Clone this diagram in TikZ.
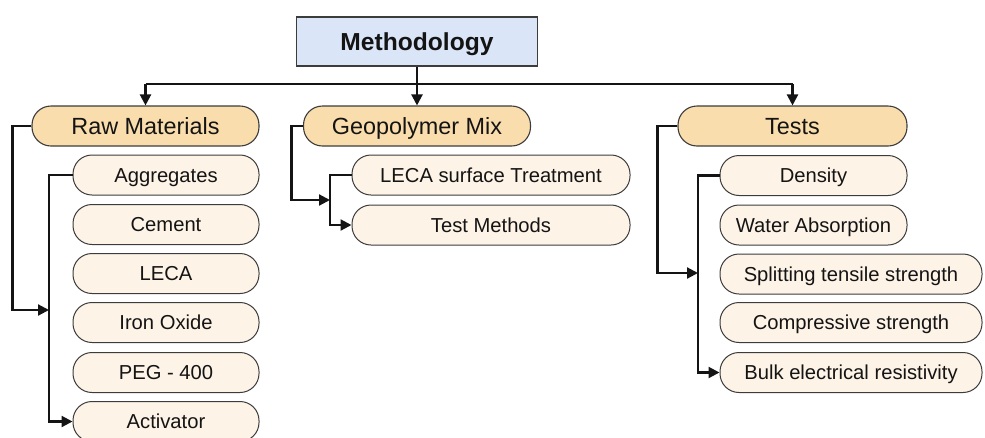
\documentclass[tikz,border=0pt]{standalone}
\usepackage{fontspec}
\setmainfont{Liberation Sans}
\usetikzlibrary{arrows.meta}
\definecolor{methfill}{HTML}{DAE5F8}
\definecolor{topfill}{HTML}{FADDAC}
\definecolor{subfill}{HTML}{FDF3E7}
\definecolor{edgec}{HTML}{3C3C3C}
\definecolor{txt}{HTML}{141414}
\tikzset{
  methbox/.style={draw=edgec, line width=1.1pt, fill=methfill, minimum width=241pt, minimum height=49pt, inner sep=0pt, text height=17.6pt, text depth=0pt, font=\fontsize{24.6}{28}\selectfont\bfseries, text=txt},
  topbox/.style={draw=edgec, line width=1.1pt, fill=topfill, rounded corners=19pt, minimum height=40pt, inner sep=0pt, text height=16.8pt, text depth=0pt, font=\fontsize{23.4}{27}\selectfont, text=txt},
  subbox/.style={draw=edgec, line width=1pt, fill=subfill, rounded corners=19pt, minimum height=40pt, inner sep=0pt, text height=14.5pt, text depth=0pt, font=\fontsize{20.2}{24}\selectfont, text=txt},
  conn/.style={draw=black!92, line width=2.2pt},
  arr/.style={conn, -{Triangle[length=11pt,width=11pt]}},
}
\begin{document}
\begin{tikzpicture}[x=1pt,y=-1pt]
\useasboundingbox (0,0) rectangle (985,437);
\node[methbox] (meth) at (417,41.5) {Methodology};
\node[topbox, minimum width=227pt] (raw) at (145.5,126) {Raw Materials};
\node[topbox, minimum width=227pt] (geo) at (417,126) {Geopolymer Mix};
\node[topbox, minimum width=229pt] (tests) at (792.5,126) {Tests};
% raw materials
\node[subbox, minimum width=186pt] (agg) at (166,175) {Aggregates};
\node[subbox, minimum width=186pt] (cem) at (166,224.5) {Cement};
\node[subbox, minimum width=186pt] (leca) at (166,273.5) {LECA};
\node[subbox, minimum width=186pt] (iron) at (166,322.5) {Iron Oxide};
\node[subbox, minimum width=186pt] (peg) at (166,372.5) {PEG - 400};
\node[subbox, minimum width=186pt] (act) at (166,421.5) {Activator};
% geopolymer
\node[subbox, minimum width=278pt] (lst) at (491,175) {LECA surface Treatment};
\node[subbox, minimum width=278pt] (tm) at (491,225) {Test Methods};
% tests
\node[subbox, minimum width=187pt] (dens) at (813.5,175.5) {Density};
\node[subbox, minimum width=187pt] (wa) at (813.5,225) {Water Absorption};
\node[subbox, minimum width=262pt] (sts) at (851,274) {Splitting tensile strength};
\node[subbox, minimum width=262pt] (cs) at (851,322.5) {Compressive strength};
\node[subbox, minimum width=262pt] (ber) at (851,372.5) {Bulk electrical resistivity};
% junction coordinates
\coordinate (hub) at (417,84);
\coordinate (rawin) at (49,310);
\coordinate (geoin) at (330,200);
\coordinate (testin) at (698,273);
% top connectors
\draw[conn] (meth.south) -- (hub);
\draw[conn] (raw.north |- hub) -- (tests.north |- hub);
\draw[arr] (raw.north |- hub) -- (raw.north);
\draw[arr] (hub) -- (geo.north);
\draw[arr] (tests.north |- hub) -- (tests.north);
% raw materials
\draw[arr] (raw.west) -- ++(-19,0) |- (rawin);
\draw[arr] (agg.west) -| (rawin) |- (act.west);
% geopolymer
\draw[arr] (geo.west) -- ++(-11.5,0) |- (geoin);
\draw[arr] (lst.west) -| (geoin) |- (tm.west);
% tests
\draw[arr] (tests.west) -- ++(-20,0) |- (testin);
\draw[arr] (dens.west) -| (testin) |- (ber.west);
\end{tikzpicture}
\end{document}
